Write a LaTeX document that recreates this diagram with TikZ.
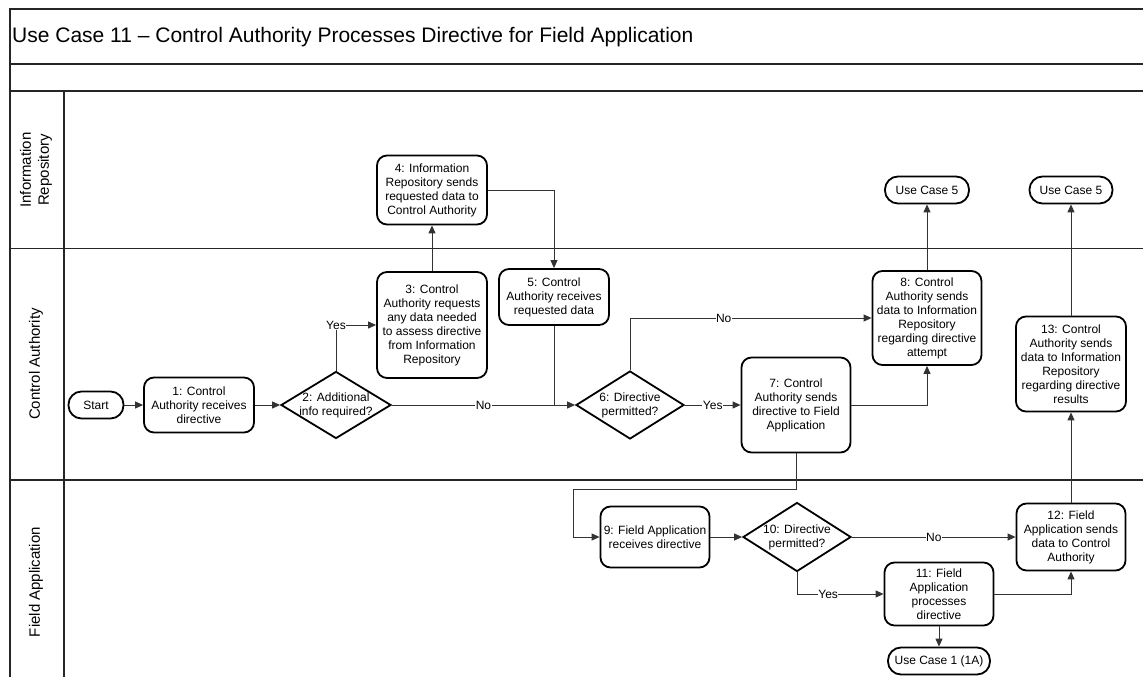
\documentclass[tikz,border=0pt]{standalone}
\usepackage{fontspec}
\setmainfont{Liberation Sans}
\usetikzlibrary{arrows.meta,shapes.geometric}
\begin{document}
\begin{tikzpicture}[x=1pt,y=-1pt,
  frameline/.style={draw=black!85,line width=1.3pt},
  nodefont/.style={font=\fontsize{12}{14}\selectfont},
  proc/.style={draw=black,line width=1.8pt,rounded corners=10pt,fill=white,align=center,inner sep=2pt,nodefont},
  term/.style={draw=black,line width=1.8pt,rounded corners=13pt,fill=white,align=center,inner sep=2pt,minimum height=27pt,nodefont},
  dec/.style={draw=black,line width=1.8pt,diamond,fill=white,inner sep=0pt},
  dectext/.style={align=center,inner sep=0pt,nodefont},
  flow/.style={draw=black!80,line width=1pt,-{Triangle[length=8pt,width=7pt]}},
  plainline/.style={draw=black!80,line width=1pt},
  lbl/.style={fill=white,inner sep=0.5pt,nodefont},
  lanetitle/.style={rotate=90,align=center,font=\fontsize{15}{18}\selectfont}
]
\clip (0,0) rectangle (1143,677);
\fill[white] (0,0) rectangle (1143,677);

% pool frame, title band and swimlanes
\draw[frameline] (10,690) -- (10,9) -- (1150,9);
\draw[frameline] (10,64) -- (1150,64);
\draw[frameline] (10,91) -- (1150,91);
\draw[frameline] (10,248.5) -- (1150,248.5);
\draw[frameline] (10,480) -- (1150,480);
\draw[frameline] (64,91) -- (64,690);

\node[anchor=west,inner sep=0pt,font=\fontsize{21}{25}\selectfont] (title) at (12,37)
  {Use Case 11 – Control Authority Processes Directive for Field Application};

\node[lanetitle] (laneIR) at (36,170) {Information\\Repository};
\node[lanetitle] (laneCA) at (36,364) {Control Authority};
\node[lanetitle] (laneFA) at (36,582) {Field Application};

% steps
\node[term,minimum width=55pt] (start) at (96,405) {Start};
\node[proc,minimum width=110pt,minimum height=55pt] (n1) at (199,405) {1: Control\\Authority receives\\directive};
\node[dec,minimum width=110pt,minimum height=67pt] (d2) at (336,405) {};
\node[dectext] (d2t) at (d2) {2: Additional\\info required?};
\node[proc,minimum width=110pt,minimum height=106pt] (n3) at (432,325) {3: Control\\Authority requests\\any data needed\\to assess directive\\from Information\\Repository};
\node[proc,minimum width=110pt,minimum height=69pt] (n4) at (432,190) {4: Information\\Repository sends\\requested data to\\Control Authority};
\node[proc,minimum width=110pt,minimum height=56pt] (n5) at (554,297) {5: Control\\Authority receives\\requested data};
\node[dec,minimum width=108pt,minimum height=68pt] (d6) at (630,405) {};
\node[dectext] (d6t) at (d6) {6: Directive\\permitted?};
\node[proc,minimum width=109pt,minimum height=95pt] (n7) at (796,405) {7: Control\\Authority sends\\directive to Field\\Application};
\node[proc,minimum width=109pt,minimum height=94pt] (n8) at (927,318) {8: Control\\Authority sends\\data to Information\\Repository\\regarding directive\\attempt};
\node[term,minimum width=84pt] (uc5a) at (927,190) {Use Case 5};
\node[term,minimum width=83pt] (uc5b) at (1071,190) {Use Case 5};
\node[proc,minimum width=110pt,minimum height=95pt] (n13) at (1071,364) {13: Control\\Authority sends\\data to Information\\Repository\\regarding directive\\results};
\node[proc,minimum width=109pt,minimum height=61pt] (n9) at (655,537) {9: Field Application\\receives directive};
\node[dec,minimum width=108pt,minimum height=69pt] (d10) at (797,537) {};
\node[dectext] (d10t) at (d10) {10: Directive\\permitted?};
\node[proc,minimum width=109pt,minimum height=63pt] (n11) at (939,594) {11: Field\\Application\\processes\\directive};
\node[proc,minimum width=109pt,minimum height=67pt] (n12) at (1071,537) {12: Field\\Application sends\\data to Control\\Authority};
\node[term,minimum width=102pt] (uc1) at (939,661) {Use Case 1 (1A)};

\coordinate (k1) at (573,489);

% connectors
\draw[flow] (start) -- (n1);
\draw[flow] (n1) -- (d2);
\draw[flow] (d2.north) |- node[lbl,pos=0.5] (yes1) {Yes} (n3.west);
\draw[flow] (n3) -- (n4);
\draw[flow] (n4.east) -| (n5.north);
\draw[plainline] (n5.south) -- (n5.south |- d6.west);
\draw[flow] (d2.east) -- node[lbl] (no1) {No} (d6.west);
\draw[flow] (d6.north) |- node[lbl,pos=0.694] (no2) {No} (n8.west);
\draw[flow] (d6.east) -- node[lbl] (yes2) {Yes} (n7.west);
\draw[flow] (n7.east) -| (n8.south);
\draw[flow] (n8) -- (uc5a);
\draw[flow] (n7.south) |- (k1) |- (n9.west);
\draw[flow] (n9) -- (d10);
\draw[flow] (d10.east) -- node[lbl] (no3) {No} (n12.west);
\draw[flow] (d10.south) |- node[lbl,pos=0.68] (yes3) {Yes} (n11.west);
\draw[flow] (n11.east) -| (n12.south);
\draw[flow] (n11) -- (uc1);
\draw[flow] (n12) -- (n13);
\draw[flow] (n13) -- (uc5b);
\end{tikzpicture}
\end{document}
